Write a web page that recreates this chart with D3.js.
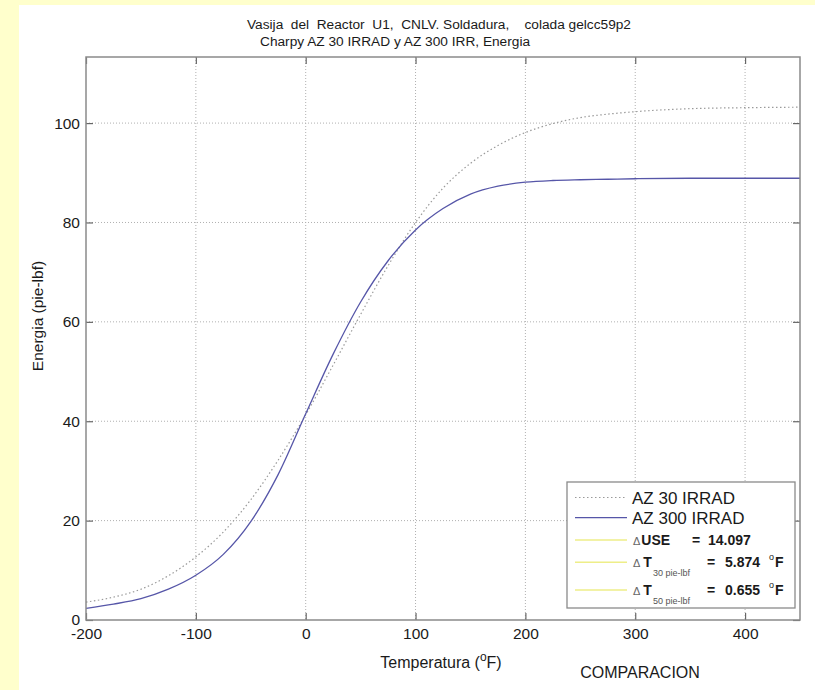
<!DOCTYPE html>
<html>
<head>
<meta charset="utf-8">
<script src="https://cdn.jsdelivr.net/npm/d3@7"></script>
<style>
  body { margin: 0; background: #ffffcc; }
  svg { display: block; font-family: "Liberation Sans", Arial, sans-serif; }
</style>
</head>
<body>
<svg id="chart" width="815" height="690"></svg>
<script>
var temps = [-200, -175, -150, -125, -100, -75, -50, -25, 0, 25, 50, 75, 100, 125, 150, 175, 200, 225, 250, 275, 300, 350, 400, 450];
// AZ 30 IRRAD (dotted grey)
var az30 = [3.6, 4.6, 6.2, 8.9, 12.7, 17.7, 24.2, 32.2, 41.3, 51.3, 61.5, 71.3, 80.0, 86.9, 91.9, 95.5, 98.1, 99.9, 101.1, 101.8, 102.3, 102.9, 103.1, 103.2];
// AZ 300 IRRAD (blue)
var az300 = [2.35, 3.2, 4.3, 6.2, 9.0, 13.2, 19.8, 29.3, 41.5, 53.5, 64.0, 72.3, 78.5, 82.8, 85.7, 87.3, 88.1, 88.45, 88.6, 88.7, 88.8, 88.9, 88.9, 88.9];

var xTicks = [-200, -100, 0, 100, 200, 300, 400];
var yTicks = [0, 20, 40, 60, 80, 100];

var legendNames = ['AZ 30 IRRAD', 'AZ 300 IRRAD'];
var deltaNames = ['USE', 'T', 'T'];
var deltaSubs = ['', '30 pie-lbf', '50 pie-lbf'];
var deltaValues = ['14.097', '5.874', '0.655'];
var deltaUnits = ['', 'F', 'F'];

var svg = d3.select('#chart');

// white figure area
svg.append('rect')
    .attr('x', 19).attr('y', 5)
    .attr('width', 796).attr('height', 685)
    .style('fill', 'white');

var plotL = 86, plotR = 800, plotT = 57, plotB = 620;

var xScale = d3.scaleLinear().domain([-200, 450]).range([plotL, plotR]);
var yScale = d3.scaleLinear().domain([0, 113.3]).range([plotB, plotT]);

// grid
svg.append('g').selectAll('line')
    .data(xTicks.slice(1))
    .enter().append('line')
    .attr('x1', d => xScale(d)).attr('x2', d => xScale(d))
    .attr('y1', plotT).attr('y2', plotB)
    .style('stroke', '#b0b0b0').style('stroke-width', 1)
    .style('stroke-dasharray', '1,2');

svg.append('g').selectAll('line')
    .data(yTicks.slice(1))
    .enter().append('line')
    .attr('x1', plotL).attr('x2', plotR)
    .attr('y1', d => yScale(d)).attr('y2', d => yScale(d))
    .style('stroke', '#b0b0b0').style('stroke-width', 1)
    .style('stroke-dasharray', '1,2');

// curves
var rows30 = temps.map((t, i) => ({ t: t, v: az30[i] }));
var rows300 = temps.map((t, i) => ({ t: t, v: az300[i] }));

var line = d3.line()
    .x(d => xScale(d.t))
    .y(d => yScale(d.v))
    .curve(d3.curveMonotoneX);

svg.append('path')
    .attr('d', line(rows30))
    .style('fill', 'none')
    .style('stroke', '#9a9a9a')
    .style('stroke-width', 1.2)
    .style('stroke-dasharray', '1.5,2.5');

svg.append('path')
    .attr('d', line(rows300))
    .style('fill', 'none')
    .style('stroke', '#5656a8')
    .style('stroke-width', 1.3);

// axes (ticks inward, mirrored)
var fmt = d => String(d);
var xAxis = d3.axisBottom(xScale).tickValues(xTicks).tickFormat(fmt).tickSizeInner(-7).tickSizeOuter(0);
var yAxis = d3.axisLeft(yScale).tickValues(yTicks).tickFormat(fmt).tickSizeInner(-7).tickSizeOuter(0);

var gx = svg.append('g').attr('transform', `translate(0, ${plotB})`).call(xAxis);
var gy = svg.append('g').attr('transform', `translate(${plotL}, 0)`).call(yAxis);
var gxTop = svg.append('g').attr('transform', `translate(0, ${plotT})`)
    .call(d3.axisTop(xScale).tickValues(xTicks).tickSizeInner(-7).tickSizeOuter(0).tickFormat(''));
var gyRight = svg.append('g').attr('transform', `translate(${plotR}, 0)`)
    .call(d3.axisRight(yScale).tickValues(yTicks).tickSizeInner(-7).tickSizeOuter(0).tickFormat(''));

[gx, gy, gxTop, gyRight].forEach(g => {
    g.select('.domain').remove();
    g.selectAll('.tick line').style('stroke', '#666').style('stroke-width', 1.2);
    g.selectAll('.tick text')
        .style('font-size', '15.5px')
        .style('fill', '#1a1a1a')
        .style('font-family', '"Liberation Sans", Arial, sans-serif');
});
gx.selectAll('.tick text').attr('dy', '0.71em').attr('y', 8);
gy.selectAll('.tick text').attr('x', -6);

// frame
svg.append('rect')
    .attr('x', plotL).attr('y', plotT)
    .attr('width', plotR - plotL).attr('height', plotB - plotT)
    .style('fill', 'none')
    .style('stroke', '#8a8a8a')
    .style('stroke-width', 1.5);

// title
svg.append('text')
    .attr('x', 247).attr('y', 29)
    .style('font-size', '13.7px').style('fill', '#1a1a1a')
    .style('white-space', 'pre')
    .text('Vasija  del  Reactor  U1,  CNLV. Soldadura,    colada gelcc59p2');
svg.append('text')
    .attr('x', 260).attr('y', 46)
    .style('font-size', '13.7px').style('fill', '#1a1a1a')
    .text('Charpy AZ 30 IRRAD y AZ 300 IRR, Energia');

// axis labels
svg.append('text')
    .attr('transform', 'translate(43, 316) rotate(-90)')
    .style('text-anchor', 'middle')
    .style('font-size', '15.5px').style('fill', '#1a1a1a')
    .text('Energia (pie-lbf)');

var xl = svg.append('text')
    .attr('x', 441).attr('y', 668)
    .style('text-anchor', 'middle')
    .style('font-size', '16px').style('fill', '#1a1a1a');
xl.append('tspan').text('Temperatura (');
xl.append('tspan').attr('dy', -7).style('font-size', '12px').text('o');
xl.append('tspan').attr('dy', 7).text('F)');

svg.append('text')
    .attr('x', 640).attr('y', 678)
    .style('text-anchor', 'middle')
    .style('font-size', '16px').style('fill', '#1a1a1a')
    .text('COMPARACION');

// legend
var lg = svg.append('g');
lg.append('rect')
    .attr('x', 567).attr('y', 482)
    .attr('width', 228).attr('height', 126)
    .style('fill', 'white')
    .style('stroke', '#8a8a8a')
    .style('stroke-width', 1.3);

var rowY = [497.5, 517.7, 540, 562.3, 590];

var sampleStyles = [
    { c: '#9a9a9a', w: 1.2, dash: '1.5,2.5' },
    { c: '#5656a8', w: 1.3, dash: null },
    { c: '#eeee88', w: 1.5, dash: null },
    { c: '#eeee88', w: 1.5, dash: null },
    { c: '#eeee88', w: 1.5, dash: null }
];
sampleStyles.forEach((s, i) => {
    lg.append('line')
        .attr('x1', 575).attr('x2', 627)
        .attr('y1', rowY[i]).attr('y2', rowY[i])
        .style('stroke', s.c).style('stroke-width', s.w)
        .style('stroke-dasharray', s.dash);
});

legendNames.forEach((n, i) => {
    lg.append('text')
        .attr('x', 632).attr('y', rowY[i] + 6)
        .style('font-size', '17px').style('fill', '#1a1a1a')
        .text(n);
});

deltaNames.forEach((n, i) => {
    var y = rowY[i + 2] + 5;
    var t = lg.append('text')
        .attr('x', 633).attr('y', y)
        .style('font-size', '14px').style('fill', '#1a1a1a');
    t.append('tspan').style('font-size', '11px').style('fill', '#666').text('\u0394');
    t.append('tspan').attr('dx', i === 0 ? 1 : 3).style('font-weight', 'bold').text(n);
    if (deltaSubs[i]) {
        t.append('tspan').attr('dy', 9).attr('dx', 1)
            .style('font-size', '9px').style('fill', '#555').text(deltaSubs[i]);
    }
    var eqX = i === 0 ? 692 : 707;
    var valX = i === 0 ? 708 : 725;
    lg.append('text')
        .attr('x', eqX).attr('y', y)
        .style('font-size', '14px').style('font-weight', 'bold').style('fill', '#1a1a1a')
        .text('=');
    lg.append('text')
        .attr('x', valX).attr('y', y)
        .style('font-size', '14px').style('font-weight', 'bold').style('fill', '#1a1a1a')
        .text(deltaValues[i]);
    if (deltaUnits[i]) {
        var u = lg.append('text')
            .attr('x', 769).attr('y', y)
            .style('font-size', '14px').style('font-weight', 'bold').style('fill', '#1a1a1a');
        u.append('tspan').attr('dy', -7).style('font-size', '9px').style('font-weight', 'normal').text('o');
        u.append('tspan').attr('dy', 7).attr('dx', 1).text(deltaUnits[i]);
    }
});
</script>
</body>
</html>
